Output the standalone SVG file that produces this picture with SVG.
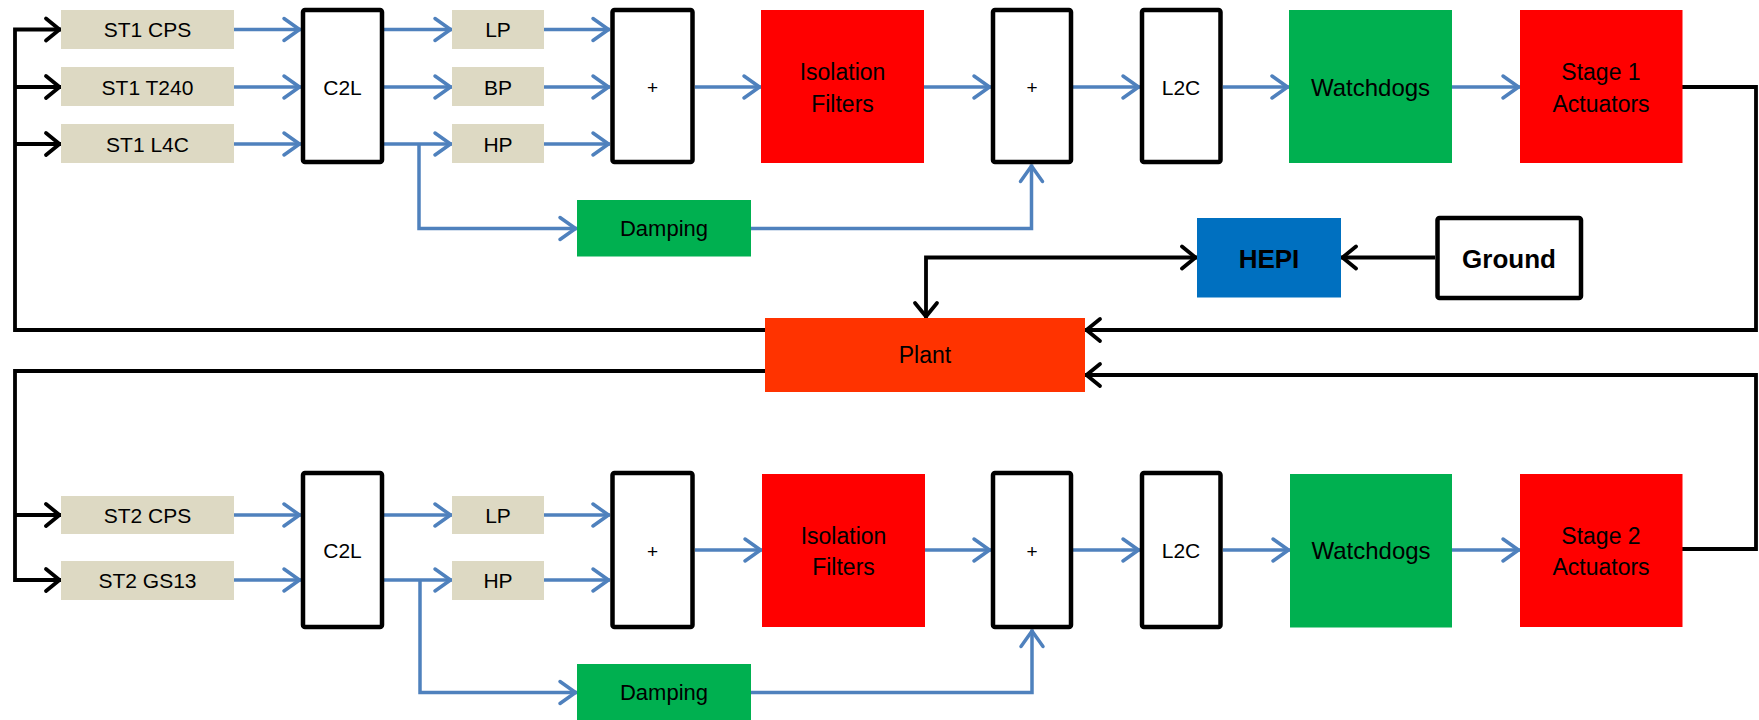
<svg xmlns="http://www.w3.org/2000/svg" width="1759" height="720" viewBox="0 0 1759 720">
<style>
.t{font-family:"Liberation Sans",Arial,sans-serif;text-anchor:middle;fill:#000}
.b{font-weight:bold}
.tan{fill:#DDD9C3}
.blk{fill:#fff;stroke:#000;stroke-width:4.5;stroke-linejoin:round}
.red{fill:#FF0000}
.grn{fill:#00B050}
.bl{fill:none;stroke:#4F81BD;stroke-width:3.5;stroke-linejoin:miter}
.bk{fill:none;stroke:#000;stroke-width:3.8;stroke-linejoin:miter}
</style>
<defs>
<marker id="ab" markerUnits="userSpaceOnUse" viewBox="-20 -14 24 28" markerWidth="24" markerHeight="28" refX="0" refY="0" orient="auto" overflow="visible">
<path d="M-17,-11 L-1.5,0 L-17,11" fill="none" stroke="#4F81BD" stroke-width="3.5" stroke-linecap="round" stroke-linejoin="round"/>
</marker>
<marker id="ak" markerUnits="userSpaceOnUse" viewBox="-20 -14 24 28" markerWidth="24" markerHeight="28" refX="0" refY="0" orient="auto-start-reverse" overflow="visible">
<path d="M-15,-11 L-1.5,0 L-15,11" fill="none" stroke="#000" stroke-width="3.8" stroke-linecap="round" stroke-linejoin="round"/>
</marker>
</defs>

<g id="connectors">
<!-- top blue -->
<path class="bl" marker-end="url(#ab)" d="M234,29.5 H301"/>
<path class="bl" marker-end="url(#ab)" d="M234,87 H301"/>
<path class="bl" marker-end="url(#ab)" d="M234,144 H301"/>
<path class="bl" marker-end="url(#ab)" d="M384,29.5 H452"/>
<path class="bl" marker-end="url(#ab)" d="M384,87 H452"/>
<path class="bl" marker-end="url(#ab)" d="M384,144 H452"/>
<path class="bl" marker-end="url(#ab)" d="M419,144 V228.5 H577"/>
<path class="bl" marker-end="url(#ab)" d="M544,29.5 H610"/>
<path class="bl" marker-end="url(#ab)" d="M544,87 H610"/>
<path class="bl" marker-end="url(#ab)" d="M544,144 H610"/>
<path class="bl" marker-end="url(#ab)" d="M695,87 H761"/>
<path class="bl" marker-end="url(#ab)" d="M924,87 H991"/>
<path class="bl" marker-end="url(#ab)" d="M751,228.5 H1031.5 V164.5"/>
<path class="bl" marker-end="url(#ab)" d="M1073,87 H1140"/>
<path class="bl" marker-end="url(#ab)" d="M1223,87 H1289"/>
<path class="bl" marker-end="url(#ab)" d="M1452,87 H1520"/>
<!-- bottom blue -->
<path class="bl" marker-end="url(#ab)" d="M234,515 H301"/>
<path class="bl" marker-end="url(#ab)" d="M234,580 H301"/>
<path class="bl" marker-end="url(#ab)" d="M384,515 H452"/>
<path class="bl" marker-end="url(#ab)" d="M384,580 H452"/>
<path class="bl" marker-end="url(#ab)" d="M420,580 V692.5 H577"/>
<path class="bl" marker-end="url(#ab)" d="M544,515 H610"/>
<path class="bl" marker-end="url(#ab)" d="M544,580 H610"/>
<path class="bl" marker-end="url(#ab)" d="M695,550 H762"/>
<path class="bl" marker-end="url(#ab)" d="M925,550 H991"/>
<path class="bl" marker-end="url(#ab)" d="M751,692.5 H1032 V629.5"/>
<path class="bl" marker-end="url(#ab)" d="M1073,550 H1140"/>
<path class="bl" marker-end="url(#ab)" d="M1223,550 H1290"/>
<path class="bl" marker-end="url(#ab)" d="M1452,550 H1520"/>
<!-- black -->
<path class="bk" marker-end="url(#ak)" d="M1682,87 H1756 V330 H1085"/>
<path class="bk" marker-end="url(#ak)" d="M765,330 H15 V29.5 H61"/>
<path class="bk" marker-end="url(#ak)" d="M15,87 H61"/>
<path class="bk" marker-end="url(#ak)" d="M15,144 H61"/>
<path class="bk" marker-end="url(#ak)" d="M765,371 H15 V580 H61"/>
<path class="bk" marker-end="url(#ak)" d="M15,515 H61"/>
<path class="bk" marker-end="url(#ak)" d="M1682,549 H1756 V375 H1085"/>
<path class="bk" marker-start="url(#ak)" marker-end="url(#ak)" d="M1197,257.5 H926 V318"/>
<path class="bk" marker-end="url(#ak)" d="M1435,257.5 H1341"/>
</g>

<!-- top row -->
<g id="st1cps"><rect class="tan" x="61" y="10" width="173" height="39"/><text class="t" x="147.5" y="37" font-size="21">ST1 CPS</text></g>
<g id="st1t240"><rect class="tan" x="61" y="67" width="173" height="39"/><text class="t" x="147.5" y="94.5" font-size="21">ST1 T240</text></g>
<g id="st1l4c"><rect class="tan" x="61" y="124" width="173" height="39"/><text class="t" x="147.5" y="151.5" font-size="21">ST1 L4C</text></g>
<g id="c2l1"><rect class="blk" x="303" y="10" width="79" height="152" rx="2"/><text class="t" x="342.5" y="94.5" font-size="21">C2L</text></g>
<g id="lp1"><rect class="tan" x="452" y="10" width="92" height="39"/><text class="t" x="498" y="37" font-size="21">LP</text></g>
<g id="bp1"><rect class="tan" x="452" y="67" width="92" height="39"/><text class="t" x="498" y="94.5" font-size="21">BP</text></g>
<g id="hp1"><rect class="tan" x="452" y="124" width="92" height="39"/><text class="t" x="498" y="151.5" font-size="21">HP</text></g>
<g id="sum1a"><rect class="blk" x="612.5" y="10" width="80" height="152" rx="2"/><text class="t" x="652.5" y="93.5" font-size="19">+</text></g>
<g id="iso1"><rect class="red" x="761" y="10" width="163" height="153"/><text class="t" x="842.5" y="80" font-size="23">Isolation</text><text class="t" x="842.5" y="111.5" font-size="23">Filters</text></g>
<g id="sum1b"><rect class="blk" x="993" y="10" width="78" height="152" rx="2"/><text class="t" x="1032" y="93.5" font-size="19">+</text></g>
<g id="l2c1"><rect class="blk" x="1142" y="10" width="78.5" height="152" rx="2"/><text class="t" x="1181" y="94.5" font-size="21">L2C</text></g>
<g id="wd1"><rect class="grn" x="1289" y="10" width="163" height="153"/><text class="t" x="1370.5" y="95.5" font-size="24">Watchdogs</text></g>
<g id="act1"><rect class="red" x="1520" y="10" width="162.5" height="153"/><text class="t" x="1601" y="80" font-size="23">Stage 1</text><text class="t" x="1601" y="111.5" font-size="23">Actuators</text></g>
<g id="damp1"><rect class="grn" x="577" y="200" width="174" height="56.5"/><text class="t" x="664" y="236" font-size="22">Damping</text></g>
<g id="hepi"><rect fill="#0070C0" x="1197" y="218" width="144" height="79.5"/><text class="t b" x="1269" y="267.5" font-size="26">HEPI</text></g>
<g id="ground"><rect class="blk" x="1437.5" y="218" width="143.5" height="80" rx="2"/><text class="t b" x="1509" y="267.5" font-size="26">Ground</text></g>
<g id="plant"><rect fill="#FF3300" x="765" y="318" width="320" height="74"/><text class="t" x="925" y="363" font-size="23">Plant</text></g>

<!-- bottom row -->
<g id="st2cps"><rect class="tan" x="61" y="496" width="173" height="38"/><text class="t" x="147.5" y="522.5" font-size="21">ST2 CPS</text></g>
<g id="st2gs13"><rect class="tan" x="61" y="561" width="173" height="39"/><text class="t" x="147.5" y="588" font-size="21">ST2 GS13</text></g>
<g id="c2l2"><rect class="blk" x="303" y="473" width="79" height="154" rx="2"/><text class="t" x="342.5" y="557.5" font-size="21">C2L</text></g>
<g id="lp2"><rect class="tan" x="452" y="496" width="92" height="38"/><text class="t" x="498" y="522.5" font-size="21">LP</text></g>
<g id="hp2"><rect class="tan" x="452" y="561" width="92" height="39"/><text class="t" x="498" y="588" font-size="21">HP</text></g>
<g id="sum2a"><rect class="blk" x="612.5" y="473" width="80" height="154" rx="2"/><text class="t" x="652.5" y="558" font-size="19">+</text></g>
<g id="iso2"><rect class="red" x="762" y="474" width="163" height="153"/><text class="t" x="843.5" y="543.5" font-size="23">Isolation</text><text class="t" x="843.5" y="575" font-size="23">Filters</text></g>
<g id="sum2b"><rect class="blk" x="993" y="473" width="78" height="154" rx="2"/><text class="t" x="1032" y="558" font-size="19">+</text></g>
<g id="l2c2"><rect class="blk" x="1142" y="473" width="78.5" height="154" rx="2"/><text class="t" x="1181" y="557.5" font-size="21">L2C</text></g>
<g id="wd2"><rect class="grn" x="1290" y="474" width="162" height="153.5"/><text class="t" x="1371" y="558.5" font-size="24">Watchdogs</text></g>
<g id="act2"><rect class="red" x="1520" y="474" width="162.5" height="153"/><text class="t" x="1601" y="543.5" font-size="23">Stage 2</text><text class="t" x="1601" y="575" font-size="23">Actuators</text></g>
<g id="damp2"><rect class="grn" x="577" y="664" width="174" height="56"/><text class="t" x="664" y="700" font-size="22">Damping</text></g>
</svg>
